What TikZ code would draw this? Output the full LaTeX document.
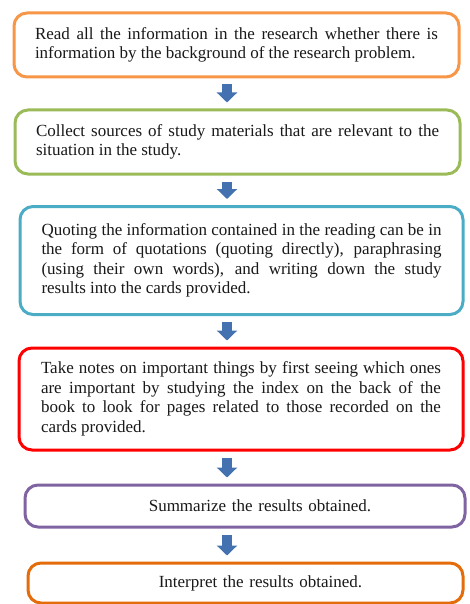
\documentclass[tikz,border=0pt]{standalone}
\usepackage{fontspec}
\setmainfont{Liberation Serif}
\usetikzlibrary{arrows.meta}

\definecolor{boxorange}{RGB}{247,150,70}
\definecolor{boxgreen}{RGB}{155,187,89}
\definecolor{boxblue}{RGB}{75,172,198}
\definecolor{boxred}{RGB}{255,0,0}
\definecolor{boxpurple}{RGB}{128,100,162}
\definecolor{boxdarkorange}{RGB}{228,108,10}
\definecolor{arrowblue}{RGB}{68,114,176}

\begin{document}
\begin{tikzpicture}[x=1pt,y=-1pt,
	stepbox/.style={draw=#1, line width=3pt, rounded corners=13pt, fill=white, align=justify,
		font=\fontsize{17}{19.5}\selectfont, text=black!90},
	downarr/.style={draw=arrowblue, line width=10pt, -{Triangle[width=20pt,length=10pt]},
		shorten <=6pt, shorten >=6pt}]
\useasboundingbox (0,0) rectangle (469,604);

\node[stepbox=boxorange, minimum width=445pt, minimum height=64pt, text width=403pt] (read) at (236.5,45)
	{Read all the information in the research whether there is\linebreak information by the background of the research problem.};
\node[stepbox=boxgreen, minimum width=445pt, minimum height=64pt, text width=403pt] (collect) at (237.5,142)
	{Collect sources of study materials that are relevant to the\linebreak situation in the study.};
\node[stepbox=boxblue, minimum width=443pt, minimum height=108pt, text width=400pt] (quote) at (241.5,260.5)
	{Quoting the information contained in the reading can be in\linebreak the form of quotations (quoting directly), paraphrasing\linebreak (using their own words), and writing down the study\linebreak results into the cards provided.};
\node[stepbox=boxred, minimum width=444pt, minimum height=102pt, text width=400pt] (notes) at (241,399)
	{Take notes on important things by first seeing which ones\linebreak are important by studying the index on the back of the\linebreak book to look for pages related to those recorded on the\linebreak cards provided.};
\node[stepbox=boxpurple, minimum width=440pt, minimum height=42pt, text width=400pt, align=center] (summ) at (245,506)
	{\hspace*{30pt}Summarize the results obtained.};
\node[stepbox=boxdarkorange, minimum width=435pt, minimum height=40pt, text width=400pt, align=center] (interp) at (245.5,583)
	{\hspace*{30pt}Interpret the results obtained.};

\coordinate (ax) at (227,0);
\foreach \a/\b in {read/collect, collect/quote, quote/notes, notes/summ, summ/interp}
	\draw[downarr] (\a.south -| ax) -- (\b.north -| ax);
\end{tikzpicture}
\end{document}
